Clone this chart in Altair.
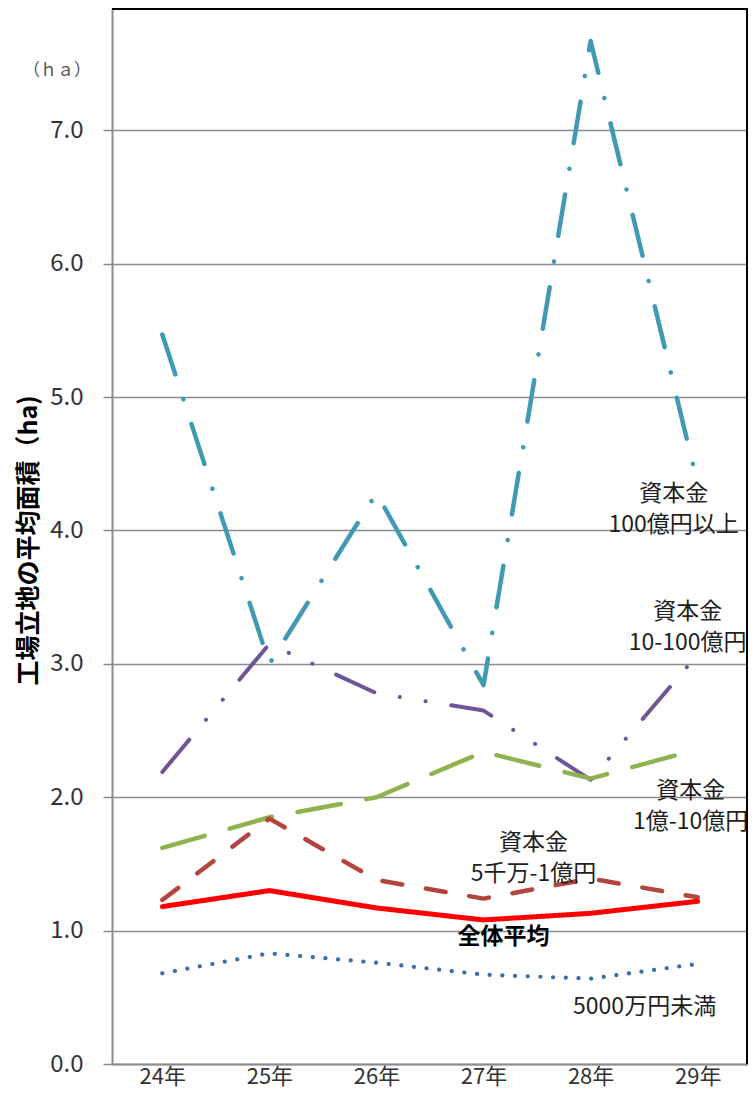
import altair as alt
import pandas as pd

# ---- data ----
years = ["24年", "25年", "26年", "27年", "28年", "29年"]

cap_100oku_ijo = [5.47, 3.00, 4.28, 2.84, 7.67, 4.35]    # 資本金100億円以上
cap_10_100oku = [2.19, 3.15, 2.78, 2.65, 2.13, 3.07]     # 資本金10-100億円
cap_1_10oku = [1.62, 1.85, 2.00, 2.34, 2.14, 2.36]       # 資本金1億-10億円
cap_5000man_1oku = [1.23, 1.84, 1.38, 1.24, 1.39, 1.25]  # 資本金5千万-1億円
under_5000man = [0.68, 0.83, 0.76, 0.67, 0.64, 0.75]     # 5000万円未満
overall_avg = [1.18, 1.30, 1.17, 1.08, 1.13, 1.22]       # 全体平均

series_names = ["資本金100億円以上", "資本金10-100億円", "資本金1億-10億円",
                "資本金5千万-1億円", "5000万円未満", "全体平均"]
series_values = [cap_100oku_ijo, cap_10_100oku, cap_1_10oku,
                 cap_5000man_1oku, under_5000man, overall_avg]

y_ticks = [0, 1, 2, 3, 4, 5, 6, 7]

rows = []
for name, vals in zip(series_names, series_values):
    for yr, v in zip(years, vals):
        rows.append({"year": yr, "series": name, "value": v})
df = pd.DataFrame(rows)

# ---- styles ----
styles = {
    "資本金100億円以上": dict(color="#409AB4", strokeDash=[42, 26, 0.1, 26], strokeWidth=4.5),
    "資本金10-100億円": dict(color="#705596", strokeDash=[42, 26, 0.1, 26, 0.1, 26], strokeWidth=4),
    "資本金1億-10億円": dict(color="#8FB24F", strokeDash=[44, 26], strokeWidth=4.5),
    "資本金5千万-1億円": dict(color="#B4443E", strokeDash=[20, 24], strokeWidth=4.5),
    "5000万円未満": dict(color="#3E6EAA", strokeDash=[0.1, 12.6], strokeWidth=4.2),
    "全体平均": dict(color="#FF0000", strokeDash=[1, 0], strokeWidth=5),
}

FONT = "Noto Sans CJK JP"
W, H = 636, 1055
GRAY = "#8c8c8c"

x_scale = alt.Scale(domain=years, type="point", padding=0.47)
y_scale = alt.Scale(domain=[0, 7.91], nice=False, zero=True)

x_axis = alt.Axis(title=None, labelAngle=0, labelFontSize=22, labelFont=FONT,
                  labelColor="#333333", ticks=False, domainColor=GRAY,
                  domainWidth=2, grid=False, labelPadding=2)
y_axis = alt.Axis(values=y_ticks, format=".1f", labelFontSize=24, labelFont=FONT,
                  labelColor="#333333", labelPadding=20, tickSize=9,
                  tickColor=GRAY, tickWidth=1.5, domainColor=GRAY, domainWidth=2,
                  grid=True, gridColor=GRAY, gridWidth=1.5,
                  title="工場立地の平均面積（ha)", titleFont=FONT, titleFontSize=25,
                  titleFontWeight="bold", titleColor="#000000",
                  titleX=-84, titleY=531, titleAngle=270,
                  titleAlign="center", titleBaseline="middle")

X = alt.X("year:N", scale=x_scale, sort=years, axis=x_axis)
Y = alt.Y("value:Q", scale=y_scale, axis=y_axis)

layers = []
for name in series_names:
    st = styles[name]
    layers.append(
        alt.Chart(df).transform_filter(alt.datum.series == name)
        .mark_line(strokeCap="round", strokeJoin="round", **st)
        .encode(x=X, y=Y)
    )

# ---- annotations (label text, anchor year, anchor value, pixel dx, bold) ----
annotations = [
    ("資本金\n100億円以上", "29年", 4.27, -24, False),
    ("資本金\n10-100億円", "29年", 3.39, -10, False),
    ("資本金\n1億-10億円", "29年", 2.05, -7, False),
    ("資本金\n5千万-1億円", "27年", 1.66, 50, False),
    ("全体平均", "27年", 0.95, 20, True),
    ("5000万円未満", "28年", 0.43, 54, False),
]
for txt, yr, val, dx, bold in annotations:
    adf = pd.DataFrame([{"year": yr, "value": val, "label": txt}])
    layers.append(
        alt.Chart(adf).mark_text(font=FONT, fontSize=23, lineHeight=31,
                                 lineBreak="\n", align="center", baseline="middle",
                                 dx=dx, color="#000000" if bold else "#1f1f1f",
                                 fontWeight="bold" if bold else "normal")
        .encode(x=X, y=Y, text="label:N")
    )

one = alt.Data(values=[{}])
# unit label
layers.append(alt.Chart(one).mark_text(text="（ｈａ）", font=FONT, fontSize=17,
                                       color="#555555", align="center", baseline="middle")
              .encode(x=alt.value(-55), y=alt.value(62)))
# top and right frame lines
layers.append(alt.Chart(one).mark_rule(color="#000000", strokeWidth=2)
              .encode(x=alt.value(0), x2=alt.value(W), y=alt.value(0)))
layers.append(alt.Chart(one).mark_rule(color="#000000", strokeWidth=2)
              .encode(x=alt.value(W - 1), y=alt.value(0), y2=alt.value(H)))

chart = alt.layer(*layers).properties(
    width=W, height=H,
    autosize=alt.AutoSizeParams(type="none"),
    padding={"left": 104, "top": 1, "right": 0, "bottom": 28},
).configure_view(stroke=None).configure(background="white")

chart.save("out.html", embed_options={"renderer": "svg", "actions": False})
